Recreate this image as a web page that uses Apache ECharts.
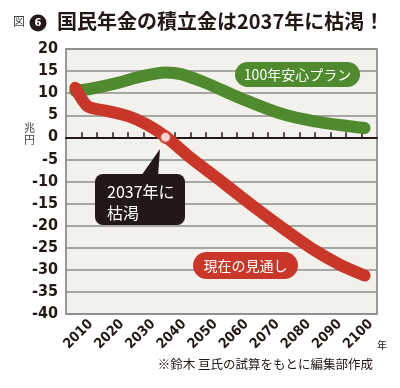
<!DOCTYPE html>
<html><head><meta charset="utf-8">
<script src="https://cdn.jsdelivr.net/npm/echarts@6/dist/echarts.min.js"></script>
<style>html,body{margin:0;padding:0;background:#fff}#c{width:400px;height:388px}</style>
</head><body><div id="c"></div>
<script>
// ---- data ----
const xTickYears = [2010,2015,2020,2025,2030,2035,2040,2045,2050,2055,2060,2065,2070,2075,2080,2085,2090,2095,2100];
const xLabelYears = [2010,2020,2030,2040,2050,2060,2070,2080,2090,2100];
const yMin = -40, yMax = 20, yStep = 5;
const greenName = '100年安心プラン';
const greenYears  = [2008, 2013, 2022, 2028, 2037, 2042, 2050, 2058, 2063, 2074, 2085, 2096, 2101];
const greenValues = [10.5, 11.0, 12.4, 13.6, 14.7, 14.3, 12.3, 9.8, 8.3, 5.4, 3.6, 2.5, 2.1];
const redName = '現在の見通し';
const redYears  = [2008, 2012, 2018, 2025, 2031, 2037, 2045, 2055, 2065, 2075, 2085, 2093, 2101];
const redValues = [11.2, 7.0, 6.0, 4.8, 2.9, 0.2, -4.6, -10.0, -15.5, -20.7, -25.6, -28.8, -31.3];
const depletionYear = 2037, depletionValue = 0;
const titleText = '国民年金の積立金は2037年に枯渇！';
const calloutText = '2037年に\n枯渇';
const sourceText = '※鈴木 亘氏の試算をもとに編集部作成';

const GREEN = '#4f8a2e', RED = '#c9372a', INK = '#231815';
const numFont = '"Liberation Sans Narrow","DejaVu Sans Condensed","Roboto Condensed",sans-serif';
const jpFont = '"Noto Sans CJK JP","Noto Sans CJK SC",sans-serif';

const chart = echarts.init(document.getElementById('c'), null, {renderer:'canvas'});
chart.setOption({
  animation:false,
  backgroundColor:'#ffffff',
  title:{text:titleText,left:57,top:11,padding:0,
    textStyle:{fontFamily:jpFont,fontSize:20,fontWeight:'bold',color:INK}},
  grid:{left:66,top:49,width:311,height:265,show:true,backgroundColor:'#f3f1ec',
    borderColor:'#7a7a7a',borderWidth:1.5},
  xAxis:[
    {type:'value',min:2005,max:2105,
     axisLine:{show:true,onZero:true,lineStyle:{color:INK,width:2}},
     axisTick:{show:true,inside:true,length:5,customValues:xTickYears,lineStyle:{color:INK,width:1.5}},
     axisLabel:{show:false},splitLine:{show:false}},
    {type:'value',min:2002,max:2102,position:'bottom',
     axisLine:{show:false,onZero:false},axisTick:{show:false},splitLine:{show:false},
     axisLabel:{show:true,rotate:45,margin:8,customValues:xLabelYears,
       fontFamily:numFont,fontWeight:'bold',fontSize:14,color:INK,formatter:v=>String(v)},
     name:'年',nameLocation:'end',nameGap:0,
     nameTextStyle:{fontFamily:jpFont,fontSize:10,color:INK,align:'left',verticalAlign:'top',padding:[26,0,0,0]}}
  ],
  yAxis:{type:'value',min:yMin,max:yMax,interval:yStep,
    axisLine:{show:false},axisTick:{show:false},
    axisLabel:{margin:8,fontFamily:numFont,fontWeight:'bold',fontSize:16,color:INK},
    splitLine:{show:true,lineStyle:{color:'#8c8c8c',width:1.5}}},
  series:[
    {name:greenName,type:'line',xAxisIndex:0,smooth:0.3,showSymbol:false,
     data:greenYears.map((y,i)=>[y,greenValues[i]]),
     lineStyle:{color:GREEN,width:12,cap:'round',join:'round'},z:3},
    {name:redName,type:'line',xAxisIndex:0,smooth:0.25,showSymbol:false,
     data:redYears.map((y,i)=>[y,redValues[i]]),
     lineStyle:{color:RED,width:12,cap:'round',join:'round'},z:4},
    {type:'scatter',xAxisIndex:0,symbol:'circle',symbolSize:11,
     data:[[depletionYear,depletionValue]],
     itemStyle:{color:'#ffffff',borderColor:RED,borderWidth:2.5},z:5}
  ],
  graphic:[
    {type:'text',left:13,top:15,style:{text:'図',font:'12px '+jpFont,fill:'#444'}},
    {type:'circle',shape:{cx:38,cy:23,r:8.5},style:{fill:INK}},
    {type:'text',x:38,y:23,style:{text:'6',font:'bold 11px '+numFont,fill:'#fff',align:'center',verticalAlign:'middle'}},
    {type:'text',left:24,top:122,style:{text:'兆\n円',font:'11px '+jpFont,fill:'#444',lineHeight:12}},
    // green label pill
    {type:'rect',shape:{x:235,y:62,width:125,height:25,r:12.5},style:{fill:GREEN},z:10},
    {type:'text',x:297.5,y:74.5,z:11,style:{text:greenName,font:'14px '+jpFont,fill:'#fff',align:'center',verticalAlign:'middle'}},
    // red label pill
    {type:'rect',shape:{x:193,y:252,width:105,height:27,r:13.5},style:{fill:RED},z:10},
    {type:'text',x:245.5,y:265.5,z:11,style:{text:redName,font:'14px '+jpFont,fill:'#fff',align:'center',verticalAlign:'middle'}},
    // callout
    {type:'polygon',shape:{points:[[141,176],[158,176],[160,149]]},style:{fill:INK},z:10},
    {type:'rect',shape:{x:95,y:174,width:90,height:51,r:8},style:{fill:INK},z:10},
    {type:'text',left:107,top:181,z:11,style:{text:calloutText,font:'16px '+jpFont,fill:'#fff',lineHeight:21}},
    // source
    {type:'text',right:27,top:358,style:{text:sourceText,font:'12.5px '+jpFont,fill:INK}}
  ]
});
</script></body></html>
